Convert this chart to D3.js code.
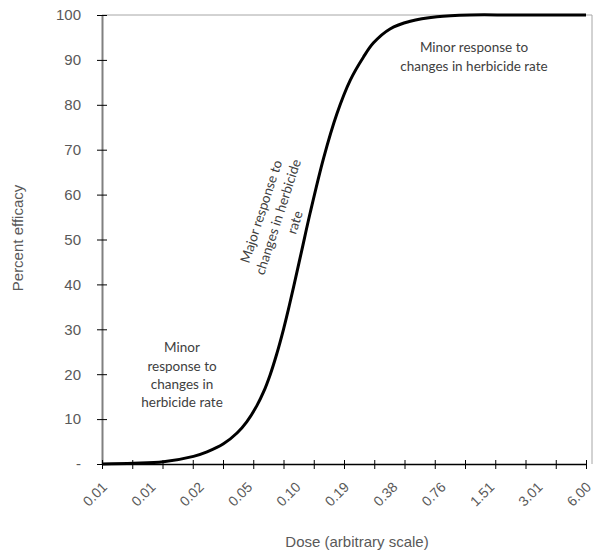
<!DOCTYPE html>
<html>
<head>
<meta charset="utf-8">
<script src="https://cdn.jsdelivr.net/npm/d3@7"></script>
<style>
  body { margin: 0; background: #fff; }
  .axis text { font-family: "Liberation Sans", Arial, sans-serif; font-size: 15px; fill: #595959; }
  .note { font-family: Lato, "Open Sans", sans-serif; font-size: 13.5px; fill: #404040; }
</style>
</head>
<body>
<div id="plot"></div>
<script>
// Dose labels (one per doubling step) and y ticks
var doseLabels = ["0.01", "0.01", "0.02", "0.05", "0.10", "0.19", "0.38", "0.76", "1.51", "3.01", "6.00"];
var yTicks = [0, 10, 20, 30, 40, 50, 60, 70, 80, 90, 100];

// Dose-response curve, x in dose steps (0 = first label), y in percent efficacy
var curveStep = [0, 0.65, 1.27, 1.89, 2.17, 2.51, 2.79, 2.99, 3.2, 3.34, 3.475, 3.61, 3.75, 3.85, 3.96, 4.13, 4.3, 4.58, 4.85, 5.13, 5.4, 5.61, 5.95, 6.37, 6.92, 7.6, 8.5, 10];
var curveEff  = [0, 0.15, 0.5, 1.7, 2.7, 4.5, 6.9, 9.4, 13.0, 16.1, 19.9, 24.5, 30.0, 34.4, 39.5, 47.7, 55.9, 68.2, 77.9, 85.5, 90.6, 93.8, 96.9, 98.6, 99.6, 100, 100, 100];

var margin = { top: 15, right: 7, bottom: 92, left: 102 },
    width = 586 - margin.left,
    height = 464 - margin.top;

var svg = d3.select("div#plot")
    .append("svg")
    .attr("width", 593)
    .attr("height", 556)
    .append("g")
    .attr("transform", "translate(" + margin.left + "," + margin.top + ")");

var x = d3.scaleLinear().domain([0, doseLabels.length - 1]).range([0, width]);
var y = d3.scaleLinear().domain([0, 100]).range([height, 0]);

// plot area border (top and right)
svg.append("path")
    .attr("d", "M0,0H" + (width + 6) + "V" + height)
    .attr("fill", "none")
    .attr("stroke", "#a6a6a6")
    .attr("stroke-width", 1);

// y axis
var yAxis = svg.append("g")
    .attr("class", "axis")
    .call(d3.axisLeft(y).tickValues(yTicks).tickSize(0).tickPadding(21)
        .tickFormat(function (d) { return d === 0 ? "-" : d; }));
yAxis.select(".domain").attr("stroke", "#808080").attr("stroke-width", 2);
yAxis.selectAll(".tick").append("line")
    .attr("x1", -5).attr("x2", 5).attr("stroke", "#000");

// x axis: tick marks every 10/16 of a step, labels at each step
var minorTicks = d3.range(0, 17).map(function (k) { return k * (doseLabels.length - 1) / 16; });
var xAxis = svg.append("g")
    .attr("class", "axis")
    .attr("transform", "translate(0," + height + ")")
    .call(d3.axisBottom(x).tickValues(minorTicks).tickSize(0).tickFormat(""));
xAxis.select(".domain").attr("stroke", "#000").attr("stroke-width", 1.5);
xAxis.selectAll(".tick").append("line")
    .attr("y1", -4).attr("y2", 5).attr("stroke", "#000");

svg.append("g")
    .attr("class", "axis")
    .selectAll("text")
    .data(doseLabels)
    .enter().append("text")
    .attr("transform", function (d, i) { return "translate(" + (x(i) + 6) + "," + (height + 24) + ") rotate(-45)"; })
    .style("text-anchor", "end")
    .style("font-size", "14px")
    .text(function (d) { return d; });

// axis titles
svg.append("text")
    .attr("transform", "translate(" + (357 - margin.left) + "," + (547 - margin.top) + ")")
    .style("text-anchor", "middle")
    .style("font-family", "Liberation Sans, Arial, sans-serif")
    .style("font-size", "15px")
    .style("fill", "#595959")
    .text("Dose (arbitrary scale)");

svg.append("text")
    .attr("transform", "translate(" + (23 - margin.left) + "," + (238 - margin.top) + ") rotate(-90)")
    .style("text-anchor", "middle")
    .style("font-family", "Liberation Sans, Arial, sans-serif")
    .style("font-size", "15px")
    .style("fill", "#595959")
    .text("Percent efficacy");

// the curve
var line = d3.line()
    .x(function (d) { return x(d[0]); })
    .y(function (d) { return y(d[1]); })
    .curve(d3.curveCatmullRom);

svg.append("path")
    .datum(d3.zip(curveStep, curveEff))
    .attr("d", line)
    .attr("fill", "none")
    .attr("stroke", "#000")
    .attr("stroke-width", 3);

// annotations
function note(cx, cy, lines, angle, gap) {
    var t = svg.append("text")
        .attr("class", "note")
        .attr("transform", "translate(" + (cx - margin.left) + "," + (cy - margin.top) + ") rotate(" + angle + ")")
        .style("text-anchor", "middle");
    lines.forEach(function (s, i) {
        t.append("tspan")
            .attr("x", 0)
            .attr("y", (i - (lines.length - 1) / 2) * gap)
            .attr("dy", "0.35em")
            .text(s);
    });
}

note(474, 57, ["Minor response to", "changes in herbicide rate"], 0, 18.5);
note(182, 375, ["Minor", "response to", "changes in", "herbicide rate"], 0, 18.2);
note(278, 217, ["Major response to", "changes in herbicide", "rate"], -72, 17.7);
</script>
</body>
</html>
